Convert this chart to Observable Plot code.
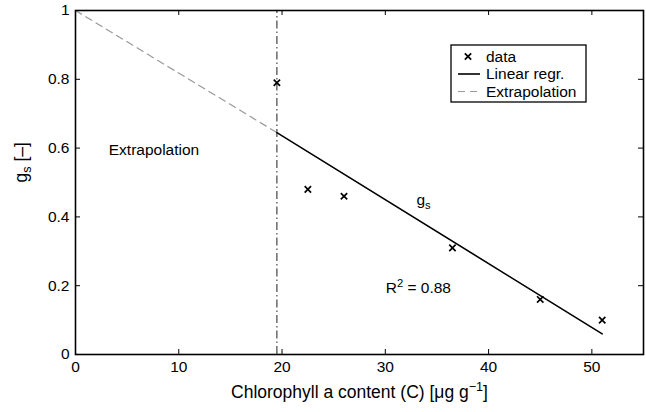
<!DOCTYPE html>
<html>
<head>
<meta charset="utf-8">
<script src="https://cdn.jsdelivr.net/npm/d3@7"></script>
<script src="https://cdn.jsdelivr.net/npm/@observablehq/plot@0.6"></script>
<style>
  html, body { margin: 0; padding: 0; background: #fff; }
  #chart svg { display: block; }
</style>
</head>
<body>
<div id="chart"></div>
<script>
// ---- data ----
const chlorophyll = [19.5, 22.5, 26, 36.5, 45, 51];
const gsValues = [0.79, 0.48, 0.46, 0.31, 0.16, 0.10];
const regrX = [19.5, 51];
const regrY = [0.645, 0.06];
const extrapX = [0, 19.5];
const extrapY = [1, 0.645];
const thresholdX = [19.5];
const xTicks = [0, 10, 20, 30, 40, 50];
const yTicks = [0, 0.2, 0.4, 0.6, 0.8, 1];
const legendLabels = ["data", "Linear regr.", "Extrapolation"];

const points = chlorophyll.map((c, i) => ({x: c, y: gsValues[i]}));
const regr = regrX.map((x, i) => ({x, y: regrY[i]}));
const extrap = extrapX.map((x, i) => ({x, y: extrapY[i]}));

const W = 646, H = 412, mL = 75, mR = 3, mT = 10, mB = 58;
const plotW = W - mL - mR, plotH = H - mT - mB;
const FONT = "'Liberation Sans', Arial, Helvetica, sans-serif";
const fmt = d3.format("~g");

const chart = Plot.plot({
  width: W, height: H,
  marginLeft: mL, marginRight: mR, marginTop: mT, marginBottom: mB,
  style: {fontFamily: FONT, fontSize: "15.5px", color: "#000", background: "#fff"},
  x: {domain: [0, 55], axis: null},
  y: {domain: [0, 1], axis: null},
  marks: [
    // tick labels
    Plot.text(xTicks, {x: d => d, y: 0, text: d => fmt(d), lineAnchor: "top", dy: 6, fontSize: 15.5}),
    Plot.text(yTicks, {x: 0, y: d => d, text: d => fmt(d), textAnchor: "end", dx: -6, fontSize: 15.5}),
    // inward ticks on all sides
    Plot.tickX(xTicks, {x: d => d, insetTop: plotH - 5, stroke: "#000", strokeWidth: 1}),
    Plot.tickX(xTicks, {x: d => d, insetBottom: plotH - 5, stroke: "#000", strokeWidth: 1}),
    Plot.tickY(yTicks, {y: d => d, insetRight: plotW - 5, stroke: "#000", strokeWidth: 1}),
    Plot.tickY(yTicks, {y: d => d, insetLeft: plotW - 5, stroke: "#000", strokeWidth: 1}),
    Plot.ruleX(thresholdX, {y1: 0, y2: 1, stroke: "#444", strokeWidth: 1.2, strokeDasharray: "8,3,1.5,3"}),
    Plot.line(extrap, {x: "x", y: "y", stroke: "#999", strokeWidth: 1.2, strokeDasharray: "7,5"}),
    Plot.line(regr, {x: "x", y: "y", stroke: "#000", strokeWidth: 1.6}),
    Plot.dot(points, {x: "x", y: "y", symbol: "times", r: 3, stroke: "#000", strokeWidth: 1.7}),
    Plot.text(["Extrapolation"], {x: 7.6, y: 0.593, text: d => d, fontSize: 15.5}),
    Plot.text(["gs"], {x: 33.7, y: 0.45, text: d => d, fontSize: 15.5}),
    Plot.text(["R2 = 0.88"], {x: 33.2, y: 0.192, text: d => d, fontSize: 15.5}),
    Plot.text(["Chlorophyll a content (C) [μg g−1]"], {frameAnchor: "bottom", dy: 43, text: d => d, fontSize: 17.5}),
    Plot.text(["gs [–]"], {frameAnchor: "left", dx: -54, rotate: -90, text: d => d, fontSize: 17.5}),
    Plot.frame({stroke: "#000", strokeWidth: 1.6})
  ]
});

// rich text (sub/superscripts)
function rich(svg, plain, parts) {
  d3.select(svg).selectAll("text").filter(function () { return this.textContent === plain; }).each(function () {
    const t = d3.select(this);
    t.text(null);
    for (const [s, shift] of parts) {
      const sp = t.append("tspan").text(s);
      if (shift) sp.attr("baseline-shift", shift).attr("font-size", "72%");
    }
  });
}
rich(chart, "gs", [["g"], ["s", "-4"]]);
rich(chart, "R2 = 0.88", [["R"], ["2", "6"], [" = 0.88"]]);
rich(chart, "Chlorophyll a content (C) [μg g−1]", [["Chlorophyll a content (C) [μg g"], ["−1", "7"], ["]"]]);
rich(chart, "gs [–]", [["g"], ["s", "-4"], [" [–]"]]);

// legend
const svg = d3.select(chart);
const lg = svg.append("g").attr("font-family", FONT).attr("font-size", 15.5).attr("text-anchor", "start");
lg.append("rect").attr("x", 451).attr("y", 45).attr("width", 135).attr("height", 57)
  .attr("fill", "#fff").attr("stroke", "#000").attr("stroke-width", 1.3);
const rows = [56.5, 74, 91.5];
lg.append("path").attr("d", d3.symbol(d3.symbolTimes, 28)()).attr("transform", `translate(468,${rows[0]})`)
  .attr("stroke", "#000").attr("stroke-width", 1.7).attr("fill", "none");
lg.append("line").attr("x1", 458).attr("x2", 480).attr("y1", rows[1]).attr("y2", rows[1])
  .attr("stroke", "#000").attr("stroke-width", 1.6);
lg.append("line").attr("x1", 458).attr("x2", 480).attr("y1", rows[2]).attr("y2", rows[2])
  .attr("stroke", "#999").attr("stroke-width", 1.2).attr("stroke-dasharray", "7,5");
legendLabels.forEach((l, i) => {
  lg.append("text").attr("x", 486).attr("y", rows[i]).attr("dy", "0.35em").text(l);
});

document.getElementById("chart").appendChild(chart);
</script>
</body>
</html>
